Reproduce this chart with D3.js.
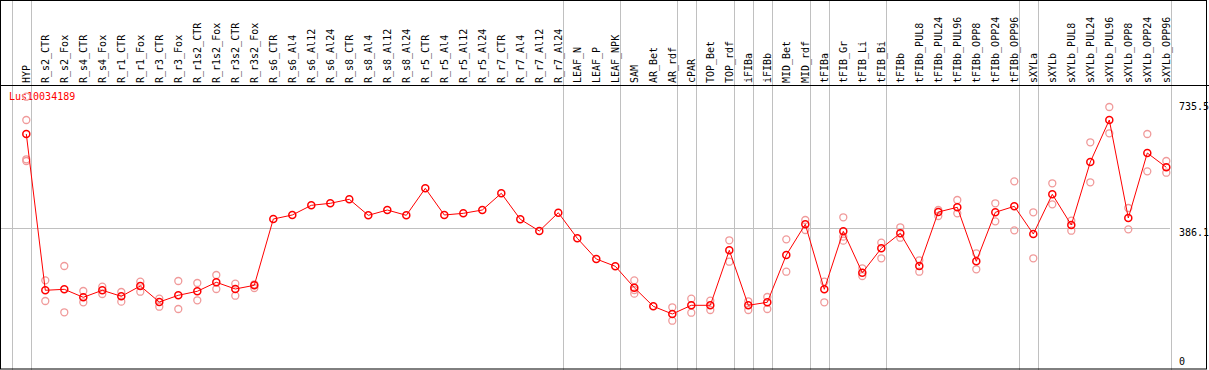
<!DOCTYPE html>
<html>
<head>
<meta charset="utf-8">
<script src="https://cdn.jsdelivr.net/npm/d3@7"></script>
<style>
  body { margin: 0; background: #fff; }
  svg { display: block; }
  text { font-family: "DejaVu Sans Mono", monospace; font-size: 10px; }
</style>
</head>
<body>
<svg id="chart"></svg>
<script>
// Dimensions
const width = 1209;
const height = 370;

const geneName = "Lus10034189";

const samples = ["HYP", "R_s2_CTR", "R_s2_Fox", "R_s4_CTR", "R_s4_Fox", "R_r1_CTR", "R_r1_Fox",
    "R_r3_CTR", "R_r3_Fox", "R_r1s2_CTR", "R_r1s2_Fox", "R_r3s2_CTR", "R_r3s2_Fox",
    "R_s6_CTR", "R_s6_Al4", "R_s6_Al12", "R_s6_Al24", "R_s8_CTR", "R_s8_Al4", "R_s8_Al12", "R_s8_Al24",
    "R_r5_CTR", "R_r5_Al4", "R_r5_Al12", "R_r5_Al24", "R_r7_CTR", "R_r7_Al4", "R_r7_Al12", "R_r7_Al24",
    "LEAF_N", "LEAF_P", "LEAF_NPK", "SAM", "AR_Bet", "AR_rdf", "cPAR", "TOP_Bet", "TOP_rdf",
    "iFIBa", "iFIBb", "MID_Bet", "MID_rdf", "tFIBa", "tFIB_Gr", "tFIB_Li", "tFIB_Bi",
    "tFIBb", "tFIBb_PUL8", "tFIBb_PUL24", "tFIBb_PUL96", "tFIBb_OPP8", "tFIBb_OPP24", "tFIBb_OPP96",
    "sXYLa", "sXYLb", "sXYLb_PUL8", "sXYLb_PUL24", "sXYLb_PUL96", "sXYLb_OPP8", "sXYLb_OPP24", "sXYLb_OPP96"];

// mean expression per sample
const meanValues = [648.2, 212.5, 215.2, 192.9, 212.5, 195.7, 224.4, 179.8, 198.5, 209.7, 234.8, 216.1, 226.4,
    411.2, 422.4, 449.4, 455.0, 466.2, 421.5, 436.3, 421.5, 496.8, 422.4, 427.1, 436.3, 482.9, 410.4, 377.8, 428.8,
    357.4, 299.7, 279.4, 219.7, 167.8, 146.4, 170.6, 170.6, 324.0, 170.6, 179.0, 310.9, 396.5,
    215.2, 376.9, 261.5, 329.5, 371.4, 280.2, 430.8, 443.9, 293.3, 429.9, 446.6,
    369.4, 480.1, 394.5, 570.2, 687.3, 414.0, 595.3, 555.4];

// individual replicates (null = none shown)
const rep1 = [752.2, 240.3, 280.2, 210.5, 222.5, 207.7, 236.4, 189.0, 238.4, 232.8, 255.1, 230.9, 229.2,
    null, null, null, null, null, null, null, null, null, null, null, null, null, null, null, null,
    null, null, null, 240.3, null, 165.1, 189.0, 183.5, 351.9, 181.8, 193.8, 354.6, 408.4,
    236.4, 416.0, 273.8, 345.2, 388.1, 296.1, 436.3, 464.2, 315.6, 455.0, 516.3,
    429.9, 510.8, 406.5, 625.1, 723.5, 441.9, 648.2, 573.0];
const rep2 = [687.3, 182.6, 151.1, 179.0, 202.1, 180.7, 208.5, 166.7, 160.3, 184.6, 216.1, 197.4, 218.9,
    null, null, null, null, null, null, null, null, null, null, null, null, null, null, null, null,
    null, null, null, 213.3, null, 127.7, 150.0, 157.5, 292.2, 157.5, 160.3, 264.3, 380.6,
    179.0, 362.0, 252.3, 301.7, 359.1, 264.3, 419.6, 427.1, 271.0, 404.8, 379.7,
    301.7, 452.2, 378.6, 513.6, 650.2, 382.5, 544.2, 540.3];
const rep3 = [577.7, null, null, null, null, null, null, null, null, null, null, null, null,
    null, null, null, null, null, null, null, null, null, null, null, null, null, null, null, null,
    null, null, null, 203.0, null, null, null, null, null, null, null, null, null,
    null, 350.9, null, null, null, null, null, null, null, null, null,
    null, null, null, null, null, null, null, null];
const rep4 = [573.0];

// separator lines drawn after these column indices
const groupBreaks = [-1, 0, 28, 31, 34, 35, 37, 38, 39, 41, 42, 45, 52, 53, 60];

const yTicks = [0, 386.1, 735.5];
const refLine = 386.1;

const svg = d3.select("#chart")
    .attr("width", width)
    .attr("height", height);

const x = d3.scalePoint()
    .domain(samples)
    .range([26.3, 1166.3]);
const step = x.step();

const y = d3.scaleLinear()
    .domain([0, 735.5])
    .range([366.5, 102.7]);

// group separators
svg.append("g")
    .selectAll("line")
    .data(groupBreaks)
    .join("line")
    .attr("x1", d => Math.round(26.3 + step * d + 4.4) + 0.5)
    .attr("x2", d => Math.round(26.3 + step * d + 4.4) + 0.5)
    .attr("y1", 0)
    .attr("y2", height)
    .attr("stroke", "#c0c0c0")
    .attr("stroke-width", 1);

// reference line
svg.append("line")
    .attr("x1", 1)
    .attr("x2", 1170)
    .attr("y1", Math.round(y(refLine)) + 0.5)
    .attr("y2", Math.round(y(refLine)) + 0.5)
    .attr("stroke", "#c0c0c0");

// header line + frame
svg.append("line")
    .attr("x1", 0).attr("x2", width)
    .attr("y1", 85.5).attr("y2", 85.5)
    .attr("stroke", "#000");

svg.append("rect")
    .attr("x", 0.5).attr("y", 0.5)
    .attr("width", 1206).attr("height", 368.5)
    .attr("fill", "none")
    .attr("stroke", "#000");

// column labels
svg.append("g")
    .selectAll("text")
    .data(samples)
    .join("text")
    .attr("transform", d => `translate(${x(d)},83) rotate(-90)`)
    .attr("dy", "0.35em")
    .attr("text-anchor", "start")
    .attr("fill", "#000")
    .text(d => d);

// y labels
svg.append("g")
    .selectAll("text")
    .data(yTicks)
    .join("text")
    .attr("x", 1179)
    .attr("y", d => Math.min(y(d) + 7.6, 365.3))
    .attr("fill", "#000")
    .text(d => d);

// gene name
svg.append("text")
    .attr("x", 9)
    .attr("y", 100)
    .attr("fill", "red")
    .text(geneName);

// replicate points
const reps = [];
[rep1, rep2, rep3, rep4].forEach(arr => {
    arr.forEach((v, i) => {
        if (v != null) reps.push({ sample: samples[i], value: v });
    });
});

svg.append("g")
    .selectAll("circle")
    .data(reps)
    .join("circle")
    .attr("cx", d => x(d.sample))
    .attr("cy", d => y(d.value))
    .attr("r", 3.5)
    .attr("fill", "none")
    .attr("stroke", "#f09a9a")
    .attr("stroke-width", 1.3);

const meanData = samples.map((s, i) => ({ sample: s, value: meanValues[i] }));

const line = d3.line()
    .x(d => x(d.sample))
    .y(d => y(d.value));

svg.append("path")
    .datum(meanData)
    .attr("fill", "none")
    .attr("stroke", "red")
    .attr("stroke-width", 1)
    .attr("d", line);

svg.append("g")
    .selectAll("circle")
    .data(meanData)
    .join("circle")
    .attr("cx", d => x(d.sample))
    .attr("cy", d => y(d.value))
    .attr("r", 3.5)
    .attr("fill", "none")
    .attr("stroke", "red")
    .attr("stroke-width", 1.5);
</script>
</body>
</html>
